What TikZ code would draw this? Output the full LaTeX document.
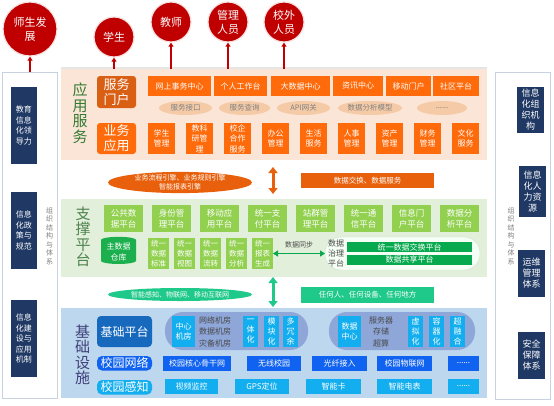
\documentclass[tikz,border=0pt]{standalone}
\usepackage{fontspec}
\setmainfont{Noto Sans CJK SC}
\usetikzlibrary{arrows.meta,positioning,shapes.geometric,calc}
\definecolor{ballred}{HTML}{C00000}
\definecolor{navy}{HTML}{1F3864}
\definecolor{peach}{HTML}{FBE5D6}
\definecolor{orange}{HTML}{FF6A0A}
\definecolor{darkorange}{HTML}{D95F14}
\definecolor{engine}{HTML}{E8600C}
\definecolor{tan}{HTML}{F5CBA7}
\definecolor{palegreen}{HTML}{E2EFDA}
\definecolor{leaf}{HTML}{92D050}
\definecolor{forest}{HTML}{06A94D}
\definecolor{mint}{HTML}{1FC98A}
\definecolor{paleblue}{HTML}{BDD7EE}
\definecolor{royal}{HTML}{1769BE}
\definecolor{netblue}{HTML}{1062F0}
\definecolor{cyan}{HTML}{12AEEF}
\definecolor{lilac}{HTML}{8EA6D8}
\definecolor{frame}{HTML}{C8D2E0}
\definecolor{ink}{HTML}{4A4A4A}
\tikzset{
  ball/.style={circle,fill=ballred,draw=ballred!12,line width=1.2pt,text=white,
    inner sep=0pt,align=center,font=\fontsize{11}{14}\selectfont},
  box/.style={rectangle,inner sep=0pt,outer sep=0pt,anchor=north west,
    align=center,text=white,font=\fontsize{8}{10.5}\selectfont},
  navybox/.style={box,fill=navy},
  obox/.style={box,fill=orange},
  gbox/.style={box,fill=leaf},
  band/.style={box,text=black},
  title/.style={align=center,font=\fontsize{15}{15.5}\selectfont},
  vlabel/.style={align=center,text=gray,font=\fontsize{7}{8.5}\selectfont},
  tanell/.style={ellipse,fill=tan,inner sep=0pt,text=gray,
    font=\fontsize{7.5}{9}\selectfont},
  upline/.style={-{Triangle[width=5pt,length=4pt]},line width=1.6pt,draw=ballred},
  dblarrow/.style={{Triangle[width=9pt,length=6pt]}-{Triangle[width=9pt,length=6pt]},
    line width=3pt}
}
\begin{document}
\begin{tikzpicture}[x=1pt,y=-1pt]
\useasboundingbox (0,0) rectangle (554,405);
% side columns
\node[band,draw=frame,line width=0.8pt,fill=white,minimum width=55,minimum height=326] (leftcol) at (2,72) {};
\node[band,draw=frame,line width=0.8pt,fill=white,minimum width=55,minimum height=327] (rightcol) at (495,72) {};
\node[navybox,minimum width=26,minimum height=77] (l1) at (11,87) {教育\\信息\\化领\\导力};
\node[navybox,minimum width=26,minimum height=77] (l2) at (11,192) {信息\\化政\\策与\\规范};
\node[navybox,minimum width=26,minimum height=77] (l3) at (11,300) {信息\\化建\\设与\\应用\\机制};
\node[vlabel] (lorg) at (49.5,236) {组\\织\\结\\构\\与\\体\\系};
\node[navybox,minimum width=27,minimum height=46,font=\fontsize{9}{11}\selectfont] (r1) at (517,87) {信息\\化组\\织机\\构};
\node[navybox,minimum width=27,minimum height=51,font=\fontsize{9}{11}\selectfont] (r2) at (519,166) {信息\\化人\\力资\\源};
\node[navybox,minimum width=27,minimum height=47,font=\fontsize{9}{11}\selectfont] (r3) at (518,250) {运维\\管理\\体系};
\node[navybox,minimum width=27,minimum height=47,font=\fontsize{9}{11}\selectfont] (r4) at (518,332) {安全\\保障\\体系};
\node[vlabel] (rorg) at (511,236) {组\\织\\结\\构\\与\\体\\系};

% bands
\node[band,fill=peach,minimum width=426,minimum height=91] (appband) at (61,69) {};
\node[band,fill=palegreen,minimum width=426,minimum height=78] (supband) at (61,199) {};
\node[band,fill=paleblue,minimum width=426,minimum height=90] (baseband) at (61,308) {};
\draw[line width=1.5pt,draw=black!10] ([yshift=0.8]appband.north west) -- ([yshift=0.8]appband.north east);

% users
\node[ball,minimum size=54] (growth) at (30,29) {师生发\\展};
\node[ball,minimum size=40] (student) at (114,37) {学生};
\node[ball,minimum size=40] (teacher) at (171,22) {教师};
\node[ball,minimum size=40] (admin) at (228,22) {管理\\人员};
\node[ball,minimum size=40] (guest) at (284,22) {校外\\人员};
\draw[upline] (leftcol.north -| growth) -- (growth);
\foreach \u in {student,teacher,admin,guest}
  \draw[upline] (appband.north -| \u) -- (\u);

% application services
\node[title,text=green!35!black!80] (apptitle) at (80,113) {应\\用\\服\\务};
\node[box,fill=darkorange,rounded corners=3pt,minimum width=39,minimum height=32,
  font=\fontsize{13}{15}\selectfont] (portal) at (97,76) {服务\\门户};
\node[box,fill=orange,rounded corners=3pt,minimum width=39,minimum height=31,
  font=\fontsize{13}{15}\selectfont] (bizapp) at (97,123) {业务\\应用};
\foreach \x/\w/\t [count=\i] in {148/63/网上事务中心,214/53/个人工作台,271/59/大数据中心,
    333/50/资讯中心,386/45/移动门户,433/46/社区平台}
  \node[obox,minimum width=\w,minimum height=20] (top\i) at (\x,76) {\t};
\foreach \x/\w/\t [count=\i] in {185.5/53/服务接口,244.5/51/服务查询,303.5/53/API网关,
    370/64/数据分析模型,442/50/{......}}
  \node[tanell,minimum width=\w,minimum height=14] (api\i) at (\x,108) {\t};
\foreach \t [count=\i] in {学生\\管理,教科\\研管\\理,校企\\合作\\服务,办公\\管理,生活\\服务,
    人事\\管理,资产\\管理,财务\\管理,文化\\服务}
  \node[obox,minimum width=27,minimum height=31] (app\i) at ({148+38*(\i-1)},123) {\t};

% engines
\node[ellipse,fill=engine,text=white,inner sep=0pt,minimum width=144,minimum height=19,
  align=center,font=\fontsize{7}{8.5}\selectfont] (engines) at (180,182.5) {业务流程引擎、业务规则引擎\\智能报表引擎};
\node[box,fill=engine,minimum width=133,minimum height=15,font=\fontsize{7.5}{9}\selectfont] (exchange) at (301,173) {数据交换、数据服务};
\coordinate (oa1) at (273,167);
\coordinate (oa2) at (273,194);
\draw[dblarrow,draw=engine,fill=engine] (oa1) -- (oa2);

% support platform
\node[title,text=green!30!black!70] (suptitle) at (83,237) {支\\撑\\平\\台};
\foreach \t [count=\i] in {公共数\\据平台,身份管\\理平台,移动应\\用平台,统一支\\付平台,
    站群管\\理平台,统一通\\信平台,信息门\\户平台,数据分\\析平台}
  \node[gbox,minimum width=39,minimum height=27,font=\fontsize{8.5}{11}\selectfont] (plat\i) at ({104+48*(\i-1)},205) {\t};
\node[cylinder,shape border rotate=90,aspect=0.25,fill=forest!85!leaf,text=white,inner sep=0pt,
  minimum width=35,minimum height=27,align=center,font=\fontsize{8}{10.5}\selectfont] (mdm) at (118.5,252) {主数据\\仓库};
\foreach \t [count=\i] in {统一\\数据\\标准,统一\\数据\\视图,统一\\数据\\流转,统一\\数据\\分析,统一\\报表\\生成}
  \node[gbox,minimum width=21,minimum height=31,font=\fontsize{7.5}{10}\selectfont] (uni\i) at ({148+26*(\i-1)},238) {\t};
\node[box,fill=green!4,draw=green!50!black!20,rounded corners=16pt,minimum width=155,minimum height=33] (govern) at (325,237) {};
\node[align=center,text=ink,font=\fontsize{8}{10}\selectfont] (govtext) at (336,253.5) {数据\\治理\\平台};
\node[box,fill=forest,minimum width=125,minimum height=10] (xchg) at (347,242) {统一数据交换平台};
\node[box,fill=forest,minimum width=125,minimum height=9.5] (share) at (347,255) {数据共享平台};
\draw[{Triangle[width=6pt,length=5pt]}-{Triangle[width=6pt,length=5pt]},line width=1.6pt,draw=forest]
  (uni5.east) -- node[above=1pt,text=ink,font=\fontsize{7}{8}\selectfont] {数据同步} (govern.west);

% sensing
\node[ellipse,fill=mint,text=white,inner sep=0pt,minimum width=144,minimum height=13,
  font=\fontsize{7}{8.5}\selectfont] (iot) at (180,294.5) {智能感知、物联网、移动互联网};
\node[box,fill=mint,minimum width=133,minimum height=16,font=\fontsize{7.5}{9}\selectfont] (anyone) at (301,287) {任何人、任何设备、任何地方};
\coordinate (ga1) at (273,277);
\coordinate (ga2) at (273,307);
\draw[dblarrow,draw=mint,fill=mint] (ga1) -- (ga2);

% infrastructure
\node[title,text=blue!30!black!75] (basetitle) at (82.5,355) {基\\础\\设\\施};
\node[box,fill=royal,rounded corners=4pt,minimum width=55,minimum height=31,
  font=\fontsize{12}{14}\selectfont] (baseplat) at (97,316) {基础平台};
\node[box,fill=netblue,rounded corners=5pt,minimum width=55,minimum height=14.5,
  font=\fontsize{12}{14}\selectfont] (campusnet) at (97,356) {校园网络};
\node[box,fill=cyan,rounded corners=5pt,minimum width=55,minimum height=14.5,
  font=\fontsize{12}{14}\selectfont] (campussense) at (97,380) {校园感知};
\node[box,fill=lilac,rounded corners=18pt,minimum width=143,minimum height=38] (roompill) at (165,312) {};
\node[box,fill=lilac,rounded corners=18pt,minimum width=146,minimum height=38] (dcpill) at (329,312) {};
\node[box,fill=cyan,minimum width=23,minimum height=31] (room) at (172,316) {中心\\机房};
\node[align=center,text=ink,font=\fontsize{8}{11.5}\selectfont] (roomlist) at (215,331.5) {网络机房\\数据机房\\灾备机房};
\foreach \x/\t [count=\i] in {243/一\\体\\化,264/模\\块\\化,283/多\\冗\\余}
  \node[box,fill=cyan,minimum width=15,minimum height=31,font=\fontsize{8}{10}\selectfont] (room\i) at (\x,316) {\t};
\node[box,fill=cyan,minimum width=23,minimum height=31] (dc) at (338,316) {数据\\中心};
\node[align=center,text=ink,font=\fontsize{8}{11.5}\selectfont] (dclist) at (381,331.5) {服务器\\存储\\超算};
\foreach \x/\t [count=\i] in {408/虚\\拟\\化,429/容\\器\\化,450/超\\融\\合}
  \node[box,fill=cyan,minimum width=15,minimum height=31,font=\fontsize{8}{10}\selectfont] (dc\i) at (\x,316) {\t};
\foreach \x/\w/\t [count=\i] in {163/68/校园核心骨干网,247/54/无线校园,312/55/光纤接入,
    377/55/校园物联网,448/31/{......}}
  \node[box,fill=netblue,minimum width=\w,minimum height=15] (net\i) at (\x,356) {\t};
\foreach \x/\w/\t [count=\i] in {165/53/视频监控,235/54/GPS定位,306/55/智能卡,
    377/55/智能电表,448/31/{......}}
  \node[box,fill=cyan,minimum width=\w,minimum height=15] (sense\i) at (\x,379) {\t};
\end{tikzpicture}
\end{document}
